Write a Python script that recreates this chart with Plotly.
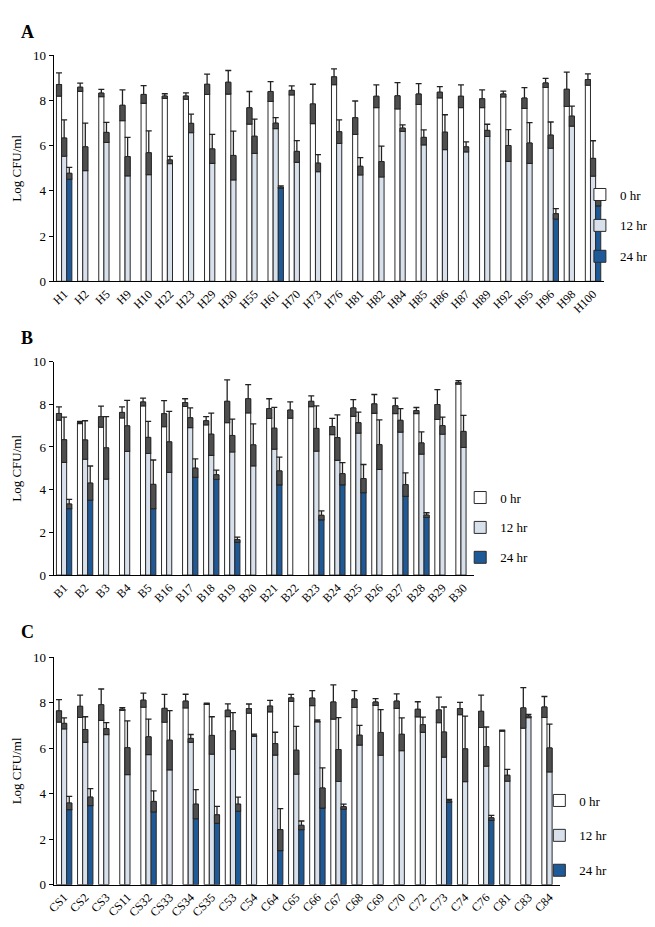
import plotly.graph_objects as go

# ---------------- Data ----------------
cat_a = ["H1", "H2", "H5", "H9", "H10", "H22", "H23", "H29", "H30", "H55", "H61", "H70", "H73", "H76",
         "H81", "H82", "H84", "H85", "H86", "H87", "H89", "H92", "H95", "H96", "H98", "H100"]
a_0 = [8.71, 8.59, 8.33, 7.79, 8.27, 8.2, 8.2, 8.72, 8.81, 7.68, 8.4, 8.45, 7.85, 9.05,
       7.24, 8.19, 8.21, 8.29, 8.37, 8.19, 8.08, 8.29, 8.11, 8.78, 8.5, 8.93]
a_0e = [0.51, 0.18, 0.16, 0.68, 0.39, 0.1, 0.14, 0.45, 0.52, 0.72, 0.44, 0.2, 0.87, 0.35,
        0.74, 0.5, 0.58, 0.46, 0.25, 0.5, 0.39, 0.13, 0.46, 0.2, 0.76, 0.25]
a_12 = [6.34, 5.95, 6.59, 5.52, 5.69, 5.37, 6.99, 5.86, 5.57, 6.42, 7.0, 5.75, 5.23, 6.62,
        5.09, 5.3, 6.78, 6.37, 6.6, 5.95, 6.68, 6.01, 6.12, 6.47, 7.31, 5.44]
a_12e = [0.8, 1.05, 0.44, 0.85, 0.97, 0.16, 0.41, 0.64, 1.08, 0.76, 0.24, 0.48, 0.38, 0.52,
         0.38, 0.68, 0.14, 0.33, 0.77, 0.22, 0.27, 0.7, 0.9, 0.58, 0.44, 0.78]
a_24 = [4.78, None, None, None, None, None, None, None, None, None, 4.17, None, None, None,
        None, None, None, None, None, None, None, None, None, 2.99, None, 3.64]
a_24e = [0.26, 0, 0, 0, 0, 0, 0, 0, 0, 0, 0.05, 0, 0, 0,
         0, 0, 0, 0, 0, 0, 0, 0, 0, 0.23, 0, 0.3]

cat_b = ["B1", "B2", "B3", "B4", "B5", "B16", "B17", "B18", "B19", "B20", "B21", "B22", "B23", "B24",
         "B25", "B26", "B27", "B28", "B29", "B30"]
b_0 = [7.57, 7.15, 7.42, 7.62, 8.11, 7.56, 8.08, 7.23, 8.14, 8.26, 7.8, 7.73, 8.14, 6.96,
       7.83, 8.02, 7.93, 7.71, 7.99, 9.03]
b_0e = [0.31, 0.05, 0.49, 0.26, 0.18, 0.61, 0.18, 0.19, 1.0, 0.66, 0.46, 0.38, 0.25, 0.38,
        0.39, 0.44, 0.36, 0.14, 0.7, 0.08]
b_12 = [6.34, 6.33, 5.96, 6.99, 6.45, 6.24, 7.37, 6.6, 6.54, 6.1, 6.88, None, 6.87, 6.44,
        7.14, 6.11, 7.25, 6.19, 7.0, 6.73]
b_12e = [1.06, 0.9, 1.46, 1.19, 0.75, 1.43, 0.46, 0.99, 0.77, 0.98, 0.98, 0, 1.06, 1.06,
         0.49, 1.16, 0.55, 0.52, 0.4, 0.75]
b_24 = [3.33, 4.31, None, None, 4.25, None, 5.01, 4.7, 1.66, None, 4.88, None, 2.8, 4.75,
        4.52, None, 4.24, 2.81, None, None]
b_24e = [0.22, 0.8, 0, 0, 1.14, 0, 0.43, 0.22, 0.12, 0, 0.65, 0, 0.21, 0.52,
         0.66, 0, 0.55, 0.11, 0, 0]

cat_c = ["CS1", "CS2", "CS3", "CS11", "CS32", "CS33", "CS34", "CS35", "C53", "C54", "C64", "C65",
         "C66", "C67", "C68", "C69", "C70", "C72", "C73", "C74", "C76", "C81", "C83", "C84"]
c_0 = [7.64, 7.84, 7.91, 7.72, 8.11, 7.75, 8.07, 7.95, 7.67, 7.74, 7.85, 8.21,
       8.2, 8.03, 8.16, 8.03, 8.07, 7.71, 7.68, 7.74, 7.62, 6.77, 7.77, 7.81]
c_0e = [0.49, 0.49, 0.69, 0.06, 0.31, 0.61, 0.3, 0.03, 0.28, 0.2, 0.25, 0.15,
        0.33, 0.75, 0.37, 0.15, 0.32, 0.33, 0.56, 0.27, 0.71, 0.02, 0.89, 0.46]
c_12 = [7.09, 6.82, 6.86, 6.02, 6.5, 6.35, 6.43, 6.56, 6.76, 6.57, 6.2, 5.91,
        7.2, 5.94, 6.57, 6.69, 6.61, 7.03, 6.71, 5.97, 6.07, 4.81, 7.41, 6.01]
c_12e = [0.24, 0.56, 0.26, 1.18, 0.78, 1.3, 0.17, 0.82, 0.8, 0.05, 0.5, 1.05,
         0.04, 1.4, 0.43, 1.0, 0.72, 0.33, 1.1, 1.44, 0.86, 0.26, 0.07, 1.05]
c_24 = [3.59, 3.85, None, None, 3.66, None, 3.54, 3.07, 3.54, None, 2.42, 2.61,
        4.25, 3.43, None, None, None, None, 3.69, None, 2.94, None, None, None]
c_24e = [0.29, 0.37, 0, 0, 0.46, 0, 0.64, 0.37, 0.31, 0, 0.92, 0.19,
         0.88, 0.11, 0, 0, 0, 0, 0.06, 0, 0.11, 0, 0, 0]

series_names = ["0 hr", "12 hr", "24 hr"]
y_ticks = [0, 2, 4, 6, 8, 10]
panel_labels = ["A", "B", "C"]

# ---------------- Style ----------------
W, H = 655, 927
FONT = "Liberation Serif, Times New Roman, serif"
fills = ["#ffffff", "#d8e0eb", "#1f5a98"]
edge = "#2b2b2b"
band_col = "#4f4f4f"
bar_w = 0.243
offsets = [-0.365, -0.122, 0.121]

# panel geometry in pixels: (x_left, x_right, y_top(10), y_bottom(0))
geo = [(39, 595, 41, 270.7), (39, 464, 352.3, 569.3), (39, 551, 652.7, 884)]
# legend: (text start x px, centre y px, group gap)
legend_pos = [(619, 214, 11), (498, 521, 10), (578, 834, 15)]

panels = [
    (cat_a, [a_0, a_12, a_24], [a_0e, a_12e, a_24e]),
    (cat_b, [b_0, b_12, b_24], [b_0e, b_12e, b_24e]),
    (cat_c, [c_0, c_12, c_24], [c_0e, c_12e, c_24e]),
]

fig = go.Figure()
layout = dict(
    width=W, height=H, margin=dict(l=0, r=0, t=0, b=0),
    paper_bgcolor="white", plot_bgcolor="white",
    barmode="overlay", font=dict(family=FONT, size=12, color="black"),
    annotations=[],
)

for p, (cats, vals, errs) in enumerate(panels):
    sfx = "" if p == 0 else str(p + 1)
    xa, ya = "x" + sfx, "y" + sfx
    leg = "legend" if p == 0 else "legend" + str(p + 1)
    for s in range(3):
        v = vals[s]
        e = errs[s]
        fig.add_trace(go.Bar(
            x=cats, y=v, xaxis=xa, yaxis=ya, name=series_names[s],
            width=bar_w, offset=offsets[s],
            marker=dict(color=fills[s], line=dict(color=edge, width=1)),
            error_y=dict(type="data", array=e, symmetric=True, color="#222222",
                         thickness=1.3, width=3),
            legend=leg, legendgroup=f"g{p}{s}", showlegend=True, hoverinfo="skip",
        ))
    # dark lower-error bands (mean - err .. mean)
    for s in range(3):
        v = vals[s]
        e = errs[s]
        bases = [None if vv is None else vv - ee for vv, ee in zip(v, e)]
        hts = [None if vv is None else ee for vv, ee in zip(v, e)]
        fig.add_trace(go.Bar(
            x=cats, y=hts, base=bases, xaxis=xa, yaxis=ya,
            width=bar_w, offset=offsets[s],
            marker=dict(color=band_col, line=dict(color="#222222", width=0.8)),
            showlegend=False, hoverinfo="skip", legend=leg, legendgroup=f"g{p}{s}",
        ))

    xl, xr, yt, yb = geo[p]
    layout["xaxis" + sfx] = dict(
        domain=[xl / W, xr / W], anchor=ya, type="category",
        range=[-0.5, len(cats) - 0.5], showline=True, linecolor="black", linewidth=1,
        ticks="", tickangle=-45, tickfont=dict(family=FONT, size=12, color="black"),
        showgrid=False, zeroline=False, fixedrange=True,
    )
    layout["yaxis" + sfx] = dict(
        domain=[(H - yb) / H, (H - yt) / H], anchor=xa, range=[0, 10],
        tickvals=y_ticks, showline=True, linecolor="black", linewidth=1,
        ticks="outside", ticklen=4, tickcolor="black",
        tickfont=dict(family=FONT, size=13, color="black"),
        showgrid=False, zeroline=False,
        title=dict(text="Log CFU/ml", font=dict(family=FONT, size=13, color="black"), standoff=8),
    )
    lx, ly, gap = legend_pos[p]
    layout[leg] = dict(
        x=(lx - 48) / W, xanchor="left", y=(H - ly) / H, yanchor="middle",
        font=dict(family=FONT, size=13, color="black"),
        bgcolor="rgba(0,0,0,0)", tracegroupgap=gap, itemwidth=30,
        traceorder="grouped",
    )

label_y = [17.5, 328, 627]
for p in range(3):
    layout["annotations"].append(dict(
        text="<b>" + panel_labels[p] + "</b>", x=4 / W, y=(H - label_y[p]) / H,
        xref="paper", yref="paper", xanchor="left", yanchor="middle",
        showarrow=False, font=dict(family=FONT, size=18, color="black"),
    ))

fig.update_layout(**layout)
fig.write_html("out.html")
